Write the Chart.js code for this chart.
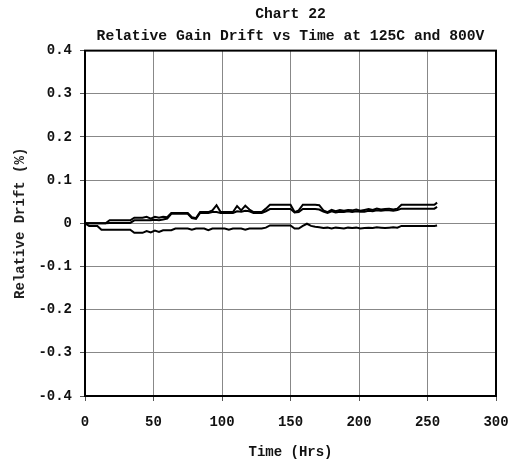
<!DOCTYPE html>
<html>
<head>
<meta charset="utf-8">
<script src="https://cdn.jsdelivr.net/npm/chart.js@4"></script>
<style>
  html, body { margin: 0; padding: 0; background: #fff; }
  #wrap { width: 511px; height: 461px; }
</style>
</head>
<body>
<div id="wrap"><canvas id="chart" width="511" height="461"></canvas></div>
<script>
// Time (Hrs)
const hours = [0, 3, 6, 9, 12, 15, 18, 21, 24, 27, 30, 33, 36, 39, 42, 45, 48, 51, 54, 57,
  60, 63, 66, 69, 72, 75, 78, 81, 84, 87, 90, 93, 96, 99, 102, 105, 108, 111, 114, 117,
  120, 123, 126, 129, 132, 135, 138, 141, 144, 147, 150, 153, 156, 159, 162, 165, 168, 171, 174, 177,
  180, 183, 186, 189, 192, 195, 198, 201, 204, 207, 210, 213, 216, 219, 222, 225, 228, 231, 234, 237,
  240, 243, 246, 249, 252, 255, 257];

// upper pair of traces (top / bottom of the double line)
const driftA = [0, 0, 0, 0, 0, 0, 0.007, 0.007, 0.007, 0.007, 0.007, 0.007, 0.013, 0.013, 0.013, 0.015, 0.011, 0.015, 0.013, 0.015,
  0.014, 0.024, 0.024, 0.024, 0.024, 0.024, 0.014, 0.012, 0.026, 0.026, 0.026, 0.030, 0.042, 0.026, 0.026, 0.026, 0.026, 0.040, 0.030, 0.041,
  0.032, 0.026, 0.026, 0.026, 0.034, 0.043, 0.043, 0.043, 0.043, 0.043, 0.043, 0.026, 0.030, 0.043, 0.043, 0.043, 0.043, 0.042, 0.030, 0.026,
  0.031, 0.028, 0.031, 0.029, 0.031, 0.030, 0.032, 0.029, 0.031, 0.033, 0.031, 0.034, 0.032, 0.033, 0.034, 0.032, 0.034, 0.043, 0.043, 0.043,
  0.043, 0.043, 0.043, 0.043, 0.043, 0.043, 0.048];
const driftB = [0, 0, 0, 0, 0, 0, 0.001, 0.001, 0.001, 0.001, 0.001, 0.001, 0.007, 0.007, 0.007, 0.007, 0.007, 0.008, 0.007, 0.009,
  0.011, 0.022, 0.022, 0.022, 0.022, 0.022, 0.012, 0.010, 0.024, 0.024, 0.024, 0.026, 0.026, 0.024, 0.024, 0.024, 0.024, 0.028, 0.027, 0.029,
  0.028, 0.024, 0.024, 0.024, 0.028, 0.033, 0.033, 0.033, 0.033, 0.033, 0.033, 0.025, 0.026, 0.033, 0.033, 0.033, 0.033, 0.032, 0.027, 0.024,
  0.028, 0.025, 0.027, 0.026, 0.028, 0.026, 0.028, 0.027, 0.027, 0.029, 0.028, 0.030, 0.029, 0.030, 0.030, 0.029, 0.031, 0.034, 0.034, 0.034,
  0.034, 0.034, 0.034, 0.034, 0.034, 0.034, 0.038];
// lower trace
const driftC = [0, -0.006, -0.006, -0.006, -0.015, -0.015, -0.015, -0.015, -0.015, -0.015, -0.015, -0.015, -0.022, -0.022, -0.022, -0.018, -0.021, -0.017, -0.020, -0.016,
  -0.016, -0.016, -0.012, -0.012, -0.012, -0.012, -0.015, -0.012, -0.012, -0.012, -0.016, -0.012, -0.012, -0.012, -0.012, -0.015, -0.012, -0.012, -0.012, -0.015,
  -0.012, -0.012, -0.012, -0.012, -0.010, -0.005, -0.005, -0.005, -0.005, -0.005, -0.005, -0.012, -0.012, -0.006, -0.001, -0.006, -0.008, -0.009, -0.011, -0.010,
  -0.012, -0.010, -0.011, -0.012, -0.010, -0.011, -0.010, -0.012, -0.011, -0.010, -0.011, -0.009, -0.010, -0.011, -0.010, -0.009, -0.010, -0.006, -0.006, -0.006,
  -0.006, -0.006, -0.006, -0.006, -0.006, -0.006, -0.005];

const titleLines = ['Chart 22', 'Relative Gain Drift vs Time at 125C and 800V'];
const FONT = '"Liberation Mono", "Courier New", monospace';

function toPoints(vals) {
    return hours.map((h, i) => ({ x: h, y: vals[i] }));
}

// black frame round the plot area
const frame = {
    id: 'frame',
    afterDraw(c) {
        const a = c.chartArea, ctx = c.ctx;
        ctx.save();
        ctx.strokeStyle = '#000';
        ctx.lineWidth = 2;
        ctx.strokeRect(a.left, a.top, a.right - a.left, a.bottom - a.top);
        ctx.restore();
    }
};

const lineStyle = { borderColor: '#000', borderWidth: 2, pointRadius: 0, fill: false, tension: 0 };

new Chart(document.getElementById('chart'), {
    type: 'line',
    data: {
        datasets: [
            Object.assign({ label: 'A', data: toPoints(driftA) }, lineStyle),
            Object.assign({ label: 'B', data: toPoints(driftB) }, lineStyle),
            Object.assign({ label: 'C', data: toPoints(driftC) }, lineStyle)
        ]
    },
    options: {
        responsive: false,
        animation: false,
        layout: { padding: { left: 0, right: 15, top: 0, bottom: 0 } },
        plugins: {
            legend: { display: false },
            tooltip: { enabled: false },
            title: {
                display: true,
                fullSize: false,
                text: titleLines,
                color: '#111',
                font: { family: FONT, size: 14.7, weight: 'bold', lineHeight: 1.45 },
                padding: { top: 4, bottom: 4 }
            }
        },
        scales: {
            x: {
                type: 'linear',
                min: 0, max: 300,
                ticks: { stepSize: 50, color: '#111', padding: 13, maxRotation: 0,
                         font: { family: FONT, size: 14, weight: 'bold' } },
                grid: { color: '#888', lineWidth: 1, tickLength: 5, tickColor: '#555' },
                border: { display: false },
                title: { display: true, text: 'Time (Hrs)', color: '#111',
                         font: { family: FONT, size: 14, weight: 'bold' }, padding: { top: 4, bottom: 0 } },
                afterFit(s) { s.height = 65; s.paddingRight = 0; s.paddingLeft = 0; }
            },
            y: {
                min: -0.4, max: 0.4,
                ticks: { stepSize: 0.1, color: '#111', padding: 8,
                         font: { family: FONT, size: 14, weight: 'bold' },
                         callback: v => Math.abs(v) < 1e-9 ? '0' : (+v.toFixed(1)).toString() },
                grid: { color: '#888', lineWidth: 1, tickLength: 5, tickColor: '#555' },
                border: { display: false },
                title: { display: true, text: 'Relative Drift (%)', color: '#222',
                         font: { family: FONT, size: 14, weight: 'bold' }, padding: { top: 12, bottom: 0 } },
                afterFit(s) { s.width = 85; }
            }
        }
    },
    plugins: [frame]
});
</script>
</body>
</html>
